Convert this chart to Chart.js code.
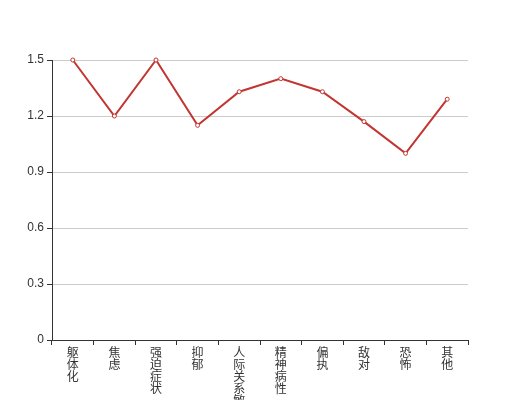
<!DOCTYPE html>
<html>
<head>
<meta charset="utf-8">
<script src="https://cdn.jsdelivr.net/npm/chart.js@4/dist/chart.umd.min.js"></script>
<style>
  body { margin: 0; background: #fff; }
</style>
</head>
<body>
<canvas id="lineChart" width="520" height="400"></canvas>
<script>
// categories and scores
const categories = ["躯体化", "焦虑", "强迫症状", "抑郁", "人际关系敏感", "精神病性", "偏执", "敌对", "恐怖", "其他"];
const scores = [1.5, 1.2, 1.5, 1.15, 1.33, 1.4, 1.33, 1.17, 1.0, 1.29];
const yTicks = [0, 0.3, 0.6, 0.9, 1.2, 1.5];

const fontFamily = "'Liberation Sans', 'Noto Sans CJK SC', sans-serif";

// vertical text: one character per line
const stackedLabels = categories.map((c) => c.split(""));

new Chart(document.getElementById("lineChart"), {
  type: "line",
  data: {
    labels: stackedLabels,
    datasets: [
      {
        label: "得分",
        data: scores,
        borderColor: "#c23531",
        borderWidth: 2,
        backgroundColor: "#fff",
        pointBackgroundColor: "#fff",
        pointBorderColor: "#c23531",
        pointBorderWidth: 1,
        pointRadius: 2,
        tension: 0,
        fill: false,
        clip: false,
      },
    ],
  },
  options: {
    responsive: false,
    animation: false,
    layout: { padding: { top: 60, right: 52, left: 0, bottom: 0 } },
    plugins: { legend: { display: false }, tooltip: { enabled: false } },
    scales: {
      x: {
        offset: true,
        grid: {
          offset: true,
          drawOnChartArea: false,
          drawTicks: true,
          tickLength: 5,
          tickColor: "#333",
        },
        border: { color: "#333", width: 1 },
        ticks: {
          color: "#333",
          font: { family: fontFamily, size: 12, lineHeight: 1 },
          padding: 3,
          maxRotation: 0,
          minRotation: 0,
          autoSkip: false,
        },
        afterFit: (scale) => {
          scale.height = 60;
        },
      },
      y: {
        min: 0,
        max: 1.5,
        afterBuildTicks: (scale) => {
          scale.ticks = yTicks.map((v) => ({ value: v }));
        },
        grid: {
          color: "#ccc",
          tickColor: "#333",
          tickLength: 5,
        },
        border: { color: "#333", width: 1 },
        ticks: {
          color: "#333",
          font: { family: fontFamily, size: 12 },
          padding: 3,
          callback: (v) => (v === 0 ? "0" : v.toFixed(1)),
        },
        afterFit: (scale) => {
          scale.width = 52;
        },
      },
    },
  },
});
</script>
</body>
</html>
